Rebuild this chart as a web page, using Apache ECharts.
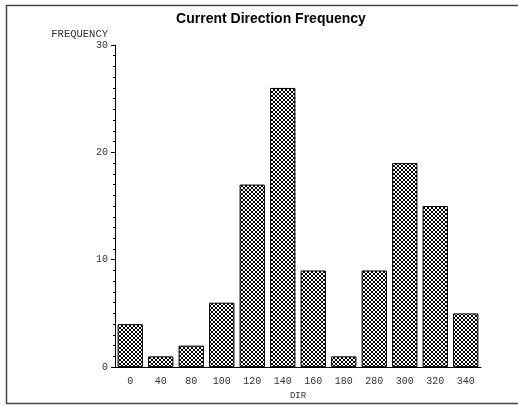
<!DOCTYPE html>
<html>
<head>
<meta charset="utf-8">
<script src="https://cdn.jsdelivr.net/npm/echarts@6/dist/echarts.min.js"></script>
<style>html,body{margin:0;padding:0;background:#fff}#c{width:518px;height:405px}</style>
</head>
<body>
<div id="c"></div>
<script>
const categories = ['0','40','80','100','120','140','160','180','280','300','320','340'];
const frequency = [4,1,2,6,17,26,9,1,9,19,15,5];
const yTicks = [0,10,20,30];

function hatch() {
  const s = 4;
  const c = document.createElement('canvas');
  c.width = s; c.height = s;
  const ctx = c.getContext('2d');
  ctx.fillStyle = '#fff';
  ctx.fillRect(0,0,s,s);
  ctx.strokeStyle = '#000';
  ctx.lineWidth = 1.0;
  for (let k = -1; k <= 1; k++) {
    ctx.beginPath();
    ctx.moveTo(k*s, 0); ctx.lineTo(k*s + s, s);
    ctx.stroke();
    ctx.beginPath();
    ctx.moveTo(k*s, s); ctx.lineTo(k*s + s, 0);
    ctx.stroke();
  }
  return c;
}

const chart = echarts.init(document.getElementById('c'));
chart.setOption({
  animation: false,
  backgroundColor: '#fff',
  title: {
    text: 'Current Direction Frequency',
    left: 266, textAlign: 'center', top: 7,
    textStyle: {fontFamily: 'Liberation Sans', fontWeight: 'bold', fontSize: 14, color: '#000'}
  },
  graphic: [{
    type: 'rect', shape: {x: 6.5, y: 5.5, width: 530, height: 398},
    style: {fill: 'none', stroke: '#444', lineWidth: 1.5}, silent: true
  }],
  grid: {left: 115, right: 37, top: 45, bottom: 33},
  xAxis: {
    type: 'category', data: categories,
    name: 'DIR', nameLocation: 'middle', nameGap: 22,
    nameTextStyle: {fontFamily: 'Liberation Mono', fontSize: 9, color: '#333'},
    axisLine: {lineStyle: {color: '#000', width: 1}},
    axisTick: {show: false},
    axisLabel: {fontFamily: 'Liberation Mono', fontSize: 10, color: '#333', margin: 9}
  },
  yAxis: {
    type: 'value', min: 0, max: 30, interval: 10,
    name: 'FREQUENCY', nameLocation: 'end', nameGap: 0,
    nameTextStyle: {fontFamily: 'Liberation Mono', fontSize: 10.5, color: '#333', align: 'right', padding: [0, 7, 0, 0]},
    axisLine: {show: true, lineStyle: {color: '#000', width: 1}},
    axisTick: {show: true, inside: false, length: 4, lineStyle: {color: '#000'}},
    minorTick: {show: true, splitNumber: 10, length: 2, lineStyle: {color: '#000'}},
    splitLine: {show: false},
    axisLabel: {fontFamily: 'Liberation Mono', fontSize: 10, color: '#333', margin: 7,
      formatter: v => yTicks.includes(v) ? String(v) : ''}
  },
  series: [{
    type: 'bar', data: frequency, barCategoryGap: '17%',
    itemStyle: {color: {image: hatch(), repeat: 'repeat'}, borderColor: '#000', borderWidth: 1}
  }]
});
</script>
</body>
</html>
